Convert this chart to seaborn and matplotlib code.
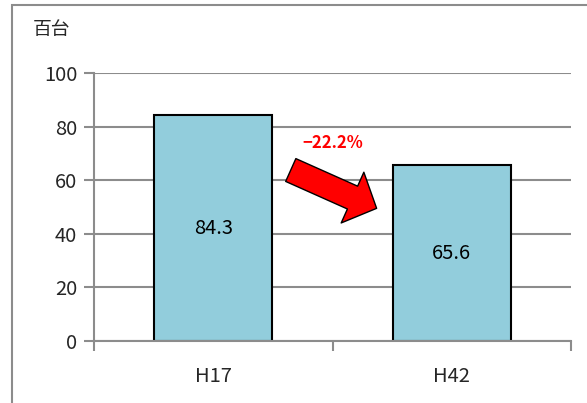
import matplotlib
matplotlib.use("Agg")
import matplotlib.pyplot as plt
import seaborn as sns
import pandas as pd
from matplotlib.patches import Rectangle

categories = ["H17", "H42"]
values = [84.3, 65.6]
value_labels = ["84.3", "65.6"]
unit_label = "百台"
change_label = "−22.2%"
yticks = [0, 20, 40, 60, 80, 100]

sns.set_theme(style="white")
plt.rcParams['font.family'] = ['Noto Sans CJK JP', 'DejaVu Sans']

df = pd.DataFrame({"cat": categories, "val": values})

fig = plt.figure(figsize=(5.87, 4.03), dpi=100)
ax = fig.add_axes([94/587, 62/403, (571-94)/587, (341-73)/403])

sns.barplot(data=df, x="cat", y="val", ax=ax, color="#92CDDC", width=0.495,
            edgecolor="black", linewidth=1.5, saturation=1)

ax.set_xlim(-0.5, 1.5)
ax.set_ylim(0, 100)
ax.set_yticks(yticks)
ax.set_yticklabels([str(t) for t in yticks], fontsize=14.5)
ax.yaxis.grid(True, color="#8c8c8c", linewidth=1.5)
ax.set_axisbelow(True)
ax.set_xlabel("")
ax.set_ylabel("")

for s in ["top", "right"]:
    ax.spines[s].set_visible(False)
for s in ["left", "bottom"]:
    ax.spines[s].set_color("#8c8c8c")
    ax.spines[s].set_linewidth(1.5)

ax.tick_params(axis="y", which="both", left=True, length=7, width=1.5, color="#8c8c8c", pad=5)
ax.set_xticks([0, 1])
ax.set_xticklabels(categories, fontsize=14.5)
ax.set_xticks([-0.5, 0.5, 1.5], minor=True)
ax.tick_params(axis="x", which="major", bottom=False, pad=12)
ax.tick_params(axis="x", which="minor", bottom=True, length=7, width=1.5, color="#8c8c8c")

for i, (v, lab) in enumerate(zip(values, value_labels)):
    ax.text(i, v / 2, lab, ha="center", va="center", fontsize=14.5, color="black")

# arrow and change label
ax.annotate("", xy=(0.685, 49.5), xytext=(0.325, 63.8),
            arrowprops=dict(arrowstyle="simple,head_length=19,head_width=40,tail_width=18",
                            mutation_scale=1,
                            fc="red", ec="black", lw=1, shrinkA=0, shrinkB=0))
ax.text((333 - 94) / 238.5 - 0.5, (341 - 143) / 2.68, change_label,
        ha="center", va="center", fontsize=12, color="red", fontweight="bold")

fig.text(52/587, 1 - 30/403, unit_label, ha="center", va="center", fontsize=13.5)

# figure border
fig.add_artist(Rectangle((12/587, -0.2), 1.2, 1.2 - 5/403, transform=fig.transFigure,
                         fill=False, ec="#8c8c8c", lw=1.5))

fig.savefig("out.png", dpi=100)
